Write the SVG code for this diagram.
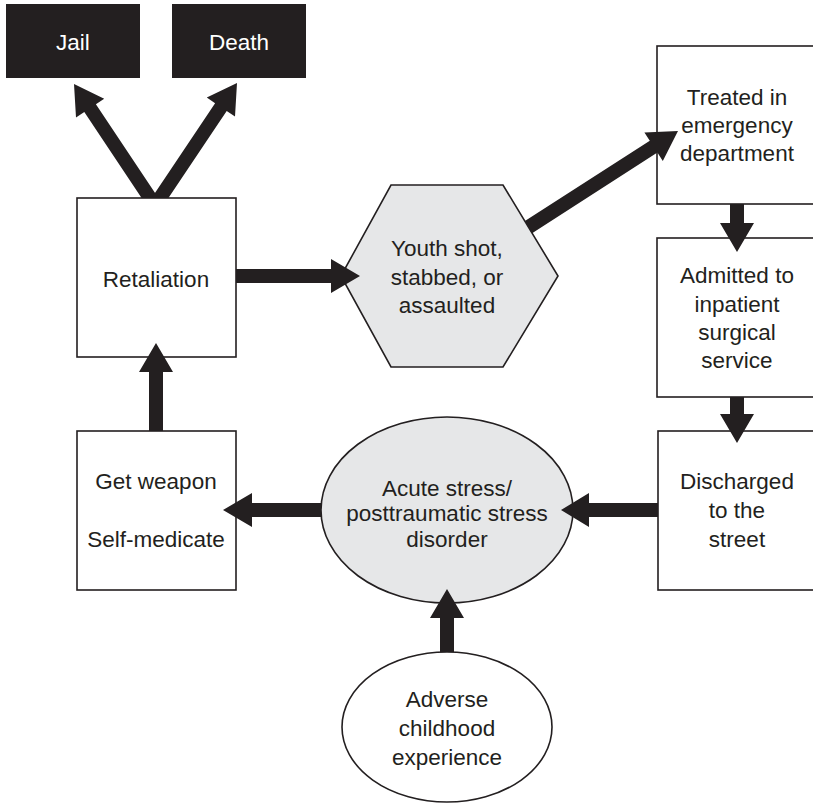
<svg xmlns="http://www.w3.org/2000/svg" width="813" height="804" viewBox="0 0 813 804">
<style>
  .box { fill: #ffffff; stroke: #231f20; stroke-width: 1.6; }
  .gray { fill: #e6e7e8; stroke: #231f20; stroke-width: 1.6; }
  .dark { fill: #231f20; }
  .arrow { fill: #231f20; stroke: none; }
  text { font-family: "Liberation Sans", Arial, sans-serif; font-size: 22.5px; fill: #231f20; text-anchor: middle; }
  .light { fill: #ffffff; }
</style>
<rect width="813" height="804" fill="#ffffff"/>

<g id="jail">
  <rect class="dark" x="6" y="4" width="134" height="74"/>
  <text class="light" x="73" y="49.5">Jail</text>
</g>
<g id="death">
  <rect class="dark" x="172" y="4" width="134" height="74"/>
  <text class="light" x="239" y="49.5">Death</text>
</g>
<g id="retaliation">
  <rect class="box" x="77" y="198" width="159" height="159"/>
  <text x="156" y="287">Retaliation</text>
</g>
<g id="youth">
  <polygon class="gray" points="341,276 391,185 503,185 558,276 503,367 391,367"/>
  <text x="447" y="256">Youth shot,</text>
  <text x="447" y="284.5">stabbed, or</text>
  <text x="447" y="313">assaulted</text>
</g>
<g id="treated">
  <rect class="box" x="657" y="46" width="200" height="158"/>
  <text x="737" y="104.5">Treated in</text>
  <text x="737" y="132.8">emergency</text>
  <text x="737" y="161">department</text>
</g>
<g id="admitted">
  <rect class="box" x="657" y="238" width="200" height="159"/>
  <text x="737" y="283.3">Admitted to</text>
  <text x="737" y="311.6">inpatient</text>
  <text x="737" y="340">surgical</text>
  <text x="737" y="368">service</text>
</g>
<g id="discharged">
  <rect class="box" x="658" y="431" width="200" height="159"/>
  <text x="737" y="489.3">Discharged</text>
  <text x="737" y="518.3">to the</text>
  <text x="737" y="547">street</text>
</g>
<g id="weapon">
  <rect class="box" x="77" y="431" width="159" height="159"/>
  <text x="156" y="489">Get weapon</text>
  <text x="156" y="546.7">Self-medicate</text>
</g>
<g id="acute">
  <ellipse class="gray" cx="447" cy="510" rx="126" ry="93"/>
  <text x="447" y="495.5">Acute stress/</text>
  <text x="447" y="521">posttraumatic stress</text>
  <text x="447" y="546.5">disorder</text>
</g>
<g id="adverse">
  <ellipse class="box" cx="447" cy="727" rx="105" ry="75"/>
  <text x="447" y="706.7">Adverse</text>
  <text x="447" y="736">childhood</text>
  <text x="447" y="764.5">experience</text>
</g>

<g id="connectors">
  <!-- Retaliation to Jail -->
  <polygon class="arrow" points="141.6,198 84.3,112 76,117.5 74,84 104.2,98.7 95.9,104.2 158.4,198"/>
  <!-- Retaliation to Death -->
  <polygon class="arrow" points="151.6,198 215.1,103.2 206.8,97.6 237,83 235,116.6 226.7,111 168.4,198"/>
  <!-- Retaliation to Youth -->
  <polygon class="arrow" points="236,269 331,269 331,259 360,276 331,293 331,283 236,283"/>
  <!-- Youth to Treated -->
  <polygon class="arrow" points="524.9,221.1 649.8,140.8 644.4,132.4 678,131 662.8,161 657.4,152.6 532.1,233.2"/>
  <!-- Treated to Admitted -->
  <polygon class="arrow" points="730,204 744,204 744,223 754,223 737,252 720,223 730,223"/>
  <!-- Admitted to Discharged -->
  <polygon class="arrow" points="730,397 744,397 744,414 754,414 737,443 720,414 730,414"/>
  <!-- Discharged to Acute -->
  <polygon class="arrow" points="658,503 589,503 589,493 561,510 589,527 589,517 658,517"/>
  <!-- Acute to Weapon -->
  <polygon class="arrow" points="321,503 252,503 252,493 223,510 252,527 252,517 321,517"/>
  <!-- Adverse to Acute -->
  <polygon class="arrow" points="440,652 440,618 430,618 447,589 464,618 454,618 454,652"/>
  <!-- Weapon to Retaliation -->
  <polygon class="arrow" points="149,431 149,372 139,372 156,343 173,372 163,372 163,431"/>
</g>
</svg>
